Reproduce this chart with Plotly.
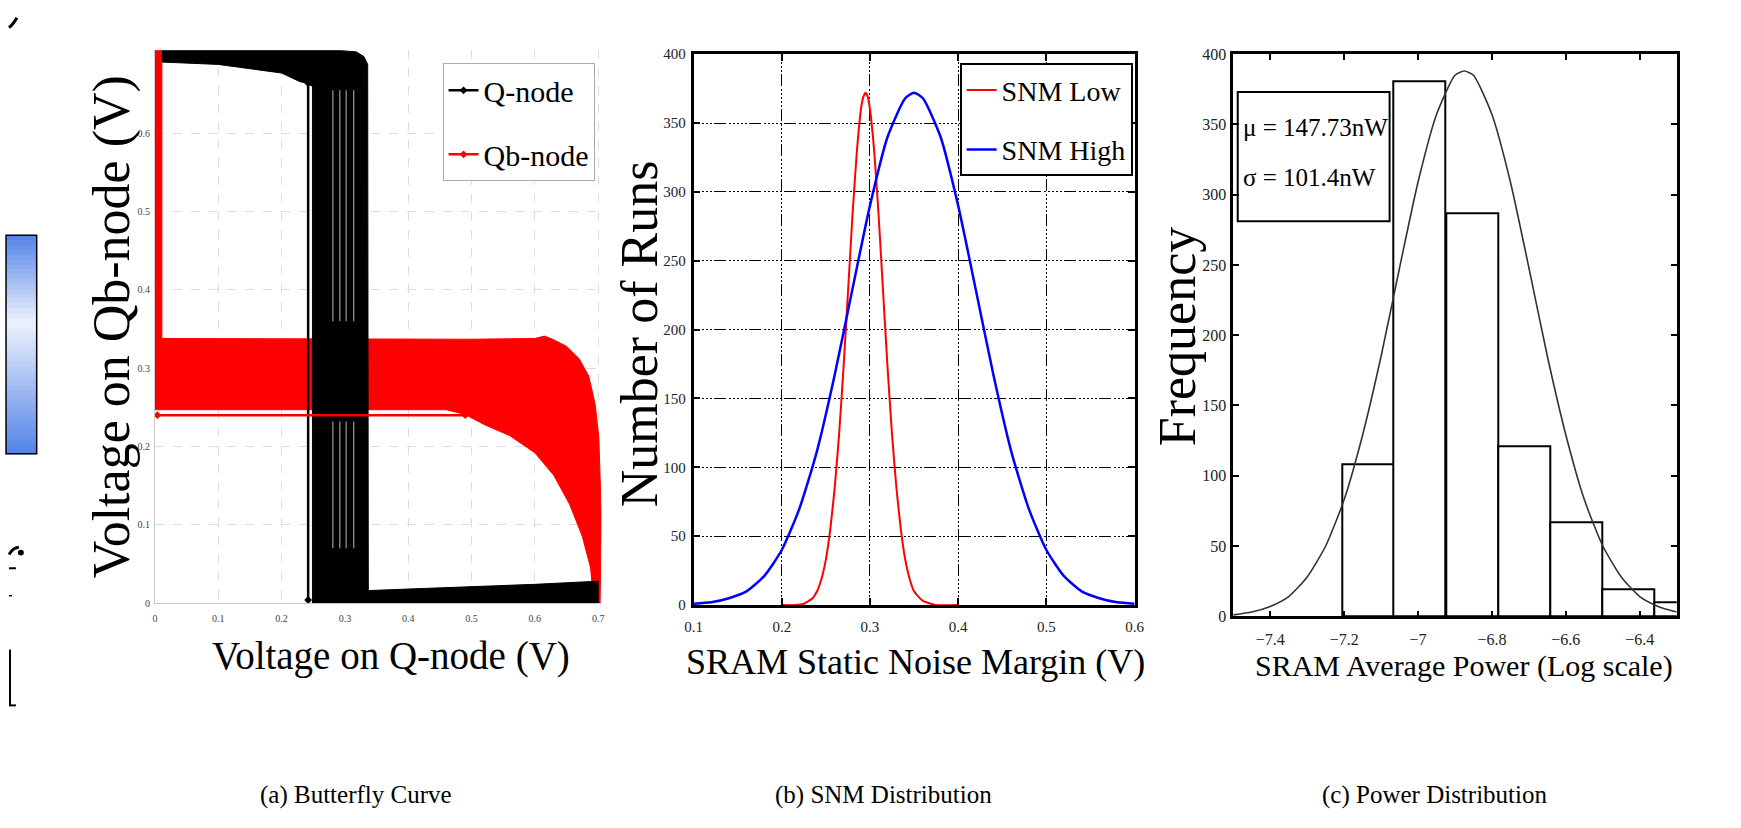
import plotly.graph_objects as go

W, H = 1741, 828
FONT = "Liberation Serif, Times New Roman, serif"

# ---------------- (a) Butterfly curve: Monte-Carlo envelopes
q_band_x = [0.011, 0.100, 0.200, 0.290, 0.318, 0.330, 0.336, 0.337, 0.400, 0.500, 0.600, 0.700,
            0.700, 0.2488, 0.2488, 0.240, 0.229, 0.200, 0.100, 0.011]
q_band_y = [0.706, 0.706, 0.706, 0.706, 0.704, 0.698, 0.688, 0.016, 0.018, 0.021, 0.024, 0.028,
            0.000, 0.000, 0.660, 0.664, 0.666, 0.677, 0.688, 0.691]
q_line_x = [0.242, 0.242]
q_line_y = [0.664, 0.004]
q_gap_x = [0.281, 0.292, 0.302, 0.314]
q_gap_upper = [0.655, 0.360]
q_gap_lower = [0.232, 0.070]

qb_band_x = [0.000, 0.011, 0.011, 0.300, 0.500, 0.600, 0.615, 0.628, 0.650, 0.670, 0.685, 0.695, 0.701,
             0.705, 0.703, 0.693, 0.688, 0.675, 0.655, 0.630, 0.600, 0.560, 0.520, 0.490, 0.460, 0.000]
qb_band_y = [0.706, 0.706, 0.338, 0.337, 0.337, 0.338, 0.341, 0.337, 0.328, 0.312, 0.290, 0.255, 0.212,
             0.110, 0.000, 0.000, 0.045, 0.085, 0.126, 0.163, 0.192, 0.214, 0.228, 0.241, 0.247, 0.247]
qb_line_x = [0.004, 0.490]
qb_line_y = [0.240, 0.240]

a_ticks = [0, 0.1, 0.2, 0.3, 0.4, 0.5, 0.6, 0.7]
a_ticktext = ["0", "0.1", "0.2", "0.3", "0.4", "0.5", "0.6", "0.7"]

# ---------------- (b) SNM distribution
snm_low_x = [0.200, 0.215, 0.225, 0.235, 0.240, 0.245, 0.250, 0.255, 0.260, 0.265, 0.270, 0.275, 0.280,
             0.285, 0.290, 0.2925, 0.295, 0.2975, 0.300, 0.305, 0.310, 0.315, 0.320, 0.325, 0.330,
             0.335, 0.340, 0.345, 0.350, 0.360, 0.375, 0.400]
snm_low_y = [0, 0, 1, 5, 10, 19, 33, 55, 85, 124, 172, 226, 281, 328, 361, 369, 372, 369, 360, 328,
             281, 226, 172, 124, 85, 55, 33, 19, 10, 3, 0, 0]
snm_high_x = [0.10, 0.12, 0.14, 0.16, 0.18, 0.20, 0.22, 0.24, 0.26, 0.28, 0.30, 0.32, 0.34, 0.35,
              0.36, 0.38, 0.40, 0.42, 0.44, 0.46, 0.48, 0.50, 0.52, 0.54, 0.56, 0.58, 0.60]
snm_high_y = [1, 2, 5, 10, 21, 40, 70, 112, 167, 229, 290, 340, 368, 372,
              368, 340, 290, 229, 167, 112, 70, 40, 21, 10, 5, 2, 1]
b_xticks = [0.1, 0.2, 0.3, 0.4, 0.5, 0.6]
b_yticks = [0, 50, 100, 150, 200, 250, 300, 350, 400]

# ---------------- (c) Power distribution
power_bin_left = [-7.205, -7.066, -6.924, -6.782, -6.642, -6.502, -6.361]
power_bin_width = 0.1406
power_counts = [108, 381, 287, 121, 67, 19, 10]
power_fit_x = [-7.50, -7.45, -7.40, -7.35, -7.30, -7.25, -7.20, -7.15, -7.10, -7.05, -7.00, -6.95, -6.90,
               -6.875, -6.85, -6.80, -6.75, -6.70, -6.65, -6.60, -6.55, -6.50, -6.45, -6.40, -6.35, -6.30]
power_fit_y = [1, 3, 7, 14, 28, 50, 83, 129, 185, 248, 309, 357, 385,
               388, 385, 357, 309, 248, 185, 129, 83, 50, 28, 14, 7, 3]
c_xticks = [-7.4, -7.2, -7.0, -6.8, -6.6, -6.4]
c_xticktext = ["\u22127.4", "\u22127.2", "\u22127", "\u22126.8", "\u22126.6", "\u22126.4"]
c_yticks = [0, 50, 100, 150, 200, 250, 300, 350, 400]
stats_lines = ["\u03bc = 147.73nW", "\u03c3 = 101.4nW"]


def px(x):
    return x / W


def py(y):
    return 1 - y / H


fig = go.Figure()

# (a) traces
fig.add_trace(go.Scatter(x=qb_band_x, y=qb_band_y, fill="toself", fillcolor="#ff0000", mode="lines",
                         line=dict(color="#ff0000", width=1), showlegend=False, hoverinfo="skip",
                         xaxis="x", yaxis="y"))
fig.add_trace(go.Scatter(x=q_band_x, y=q_band_y, fill="toself", fillcolor="#000000", mode="lines",
                         line=dict(color="#000000", width=1), showlegend=False, hoverinfo="skip",
                         xaxis="x", yaxis="y"))
gx, gy = [], []
for gxv in q_gap_x:
    for seg in (q_gap_upper, q_gap_lower):
        gx += [gxv, gxv, None]
        gy += [seg[0], seg[1], None]
fig.add_trace(go.Scatter(x=gx, y=gy, mode="lines", line=dict(color="rgba(255,255,255,0.6)", width=1.2),
                         showlegend=False, hoverinfo="skip", xaxis="x", yaxis="y"))
fig.add_trace(go.Scatter(x=q_line_x, y=q_line_y, mode="lines+markers", name="Q-node",
                         line=dict(color="black", width=2.5), marker=dict(symbol="diamond", size=6, color="black"),
                         legend="legend", legendgroup="q", xaxis="x", yaxis="y"))
fig.add_trace(go.Scatter(x=qb_line_x, y=qb_line_y, mode="lines+markers", name="Qb-node",
                         line=dict(color="#ff0000", width=2.5), marker=dict(symbol="diamond", size=6, color="#ff0000"),
                         legend="legend", legendgroup="qb", xaxis="x", yaxis="y"))

# (b) traces
fig.add_trace(go.Scatter(x=snm_low_x, y=snm_low_y, mode="lines", name="SNM Low",
                         line=dict(color="#ff0000", width=2, shape="spline", smoothing=0.5),
                         legend="legend2", legendgroup="low", xaxis="x2", yaxis="y2"))
fig.add_trace(go.Scatter(x=snm_high_x, y=snm_high_y, mode="lines", name="SNM High",
                         line=dict(color="#0000ff", width=2.5, shape="spline", smoothing=0.6),
                         legend="legend2", legendgroup="high", xaxis="x2", yaxis="y2"))

# (c) traces
fig.add_trace(go.Bar(x=power_bin_left, y=power_counts, width=power_bin_width, offset=0,
                     marker=dict(color="white", line=dict(color="black", width=2)),
                     showlegend=False, xaxis="x3", yaxis="y3"))
fig.add_trace(go.Scatter(x=power_fit_x, y=power_fit_y, mode="lines",
                         line=dict(color="#333333", width=1.6, shape="spline", smoothing=0.6),
                         showlegend=False, xaxis="x3", yaxis="y3"))

axis_font_small = dict(family=FONT, size=10, color="#444444")
tick_font = dict(family=FONT, size=15, color="#222222")
GRID_DASH = "2px,2px,2px,2px,2px,2px,2px,2px,2px,2px,12px,3px"

layout = dict(
    width=W, height=H, margin=dict(l=0, r=0, t=0, b=0),
    paper_bgcolor="white", plot_bgcolor="white", showlegend=True, bargap=0,
    xaxis=dict(domain=[px(147.5), px(598.9)], range=[0, 0.705], tickvals=a_ticks, ticktext=a_ticktext,
               showgrid=True, gridcolor="#dcdcdc", griddash="dash", gridwidth=1, zeroline=False,
               showline=True, linecolor="#c8c8c8", linewidth=1, ticks="", tickfont=axis_font_small,
               ticklabelstandoff=6, anchor="y"),
    yaxis=dict(domain=[py(607.6), py(43.2)], range=[0, 0.706], tickvals=a_ticks[:-1], ticktext=a_ticktext[:-1],
               showgrid=True, gridcolor="#dcdcdc", griddash="dash", gridwidth=1, zeroline=False,
               showline=True, linecolor="#c8c8c8", linewidth=1, ticks="", tickfont=axis_font_small,
               ticklabelstandoff=2, anchor="x"),
    xaxis2=dict(domain=[px(692.1), px(1138)], range=[0.1, 0.6], tickvals=b_xticks,
                showgrid=True, gridcolor="black", gridwidth=1.4, griddash=GRID_DASH,
                zeroline=False, showline=True, linecolor="black", linewidth=2.5, mirror="ticks",
                ticks="inside", ticklen=7, tickwidth=2, tickcolor="black", tickfont=tick_font,
                ticklabelstandoff=6, anchor="y2"),
    yaxis2=dict(domain=[py(609.6), py(47.1)], range=[0, 400], tickvals=b_yticks,
                showgrid=True, gridcolor="black", gridwidth=1.4, griddash=GRID_DASH,
                zeroline=False, showline=True, linecolor="black", linewidth=2.5, mirror="ticks",
                ticks="inside", ticklen=7, tickwidth=2, tickcolor="black", tickfont=tick_font,
                ticklabelstandoff=2, anchor="x2"),
    xaxis3=dict(domain=[px(1237.8), px(1686.1)], range=[-7.5, -6.3], tickvals=c_xticks, ticktext=c_xticktext,
                showgrid=False, zeroline=False, showline=True, linecolor="black", linewidth=2.5, mirror="ticks",
                ticks="inside", ticklen=6, tickwidth=2, tickcolor="black",
                tickfont=dict(family=FONT, size=16, color="#222222"), ticklabelstandoff=7, anchor="y3"),
    yaxis3=dict(domain=[py(621), py(47.1)], range=[0, 400], tickvals=c_yticks,
                showgrid=False, zeroline=False, showline=True, linecolor="black", linewidth=2.5, mirror="ticks",
                ticks="inside", ticklen=6, tickwidth=2, tickcolor="black",
                tickfont=dict(family=FONT, size=16, color="#222222"), ticklabelstandoff=1, anchor="x3"),
    legend=dict(x=px(592), y=py(56.5), xanchor="right", yanchor="top", bgcolor="white",
                bordercolor="#aaaaaa", borderwidth=1, font=dict(family=FONT, size=30, color="black"),
                traceorder="grouped", tracegroupgap=22, itemwidth=30),
    legend2=dict(x=px(1136), y=py(56.5), xanchor="right", yanchor="top", bgcolor="white",
                 bordercolor="black", borderwidth=2, font=dict(family=FONT, size=28, color="black"),
                 traceorder="grouped", tracegroupgap=20, itemwidth=30),
)
fig.update_layout(**layout)

ann = []


def title(text, x, y, size, angle=0):
    ann.append(dict(text=text, x=px(x), y=py(y), xref="paper", yref="paper", showarrow=False,
                    xanchor="center", yanchor="middle", textangle=angle,
                    font=dict(family=FONT, size=size, color="black")))


title("Voltage on Q-node (V)", 386, 662, 39)
title("Voltage on Qb-node (V)", 104, 325, 52, -90)
title("SRAM Static Noise Margin (V)", 917, 668, 36)
title("Number of Runs", 637, 333, 52, -90)
title("SRAM Average Power (Log scale)", 1471, 672, 30)
title("Frequency", 1181, 336, 52, -90)
title("(a) Butterfly Curve", 351, 803, 25)
title("(b) SNM Distribution", 884, 803, 25)
title("(c) Power Distribution", 1441, 803, 25)

# stats box text in panel (c)
ann.append(dict(text=stats_lines[0], x=-7.478, y=348, xref="x3", yref="y3", showarrow=False,
                xanchor="left", yanchor="middle", font=dict(family=FONT, size=25, color="black")))
ann.append(dict(text=stats_lines[1], x=-7.478, y=312, xref="x3", yref="y3", showarrow=False,
                xanchor="left", yanchor="middle", font=dict(family=FONT, size=25, color="black")))

shapes = [dict(type="rect", xref="x3", yref="y3", x0=-7.488, x1=-7.077, y0=281, y1=373,
               line=dict(color="black", width=2), fillcolor="rgba(0,0,0,0)", layer="above")]

# left-edge fragments of a neighbouring slide (decoration)
top, bot, n = 232.0, 455.0, 45
c_edge = (82, 132, 232)
c_mid = (238, 242, 253)
for i in range(n):
    t = (i + 0.5) / n
    f = t / 0.4 if t < 0.4 else (1 - t) / 0.6
    col = tuple(int(c_edge[k] + (c_mid[k] - c_edge[k]) * f) for k in range(3))
    y0 = top + (bot - top) * i / n
    y1 = top + (bot - top) * (i + 1) / n + 0.6
    shapes.append(dict(type="rect", xref="paper", yref="paper", x0=px(-3), x1=px(28), y0=py(y1), y1=py(y0),
                       line=dict(width=0), fillcolor="rgb(%d,%d,%d)" % col, layer="below"))
shapes.append(dict(type="rect", xref="paper", yref="paper", x0=px(-3), x1=px(28), y0=py(bot), y1=py(top),
                   line=dict(color="black", width=1.5), fillcolor="rgba(0,0,0,0)"))


def seg(d, w):
    shapes.append(dict(type="path", xref="paper", yref="paper", path=d,
                       line=dict(color="black", width=w), fillcolor="rgba(0,0,0,0)"))


seg("M %f,%f Q %f,%f %f,%f" % (px(0), py(20), px(4), py(17), px(8), py(10)), 3)
seg("M %f,%f Q %f,%f %f,%f" % (px(0), py(558), px(5), py(550), px(10), py(551)), 3)
shapes.append(dict(type="circle", xref="paper", yref="paper", x0=px(9), x1=px(15), y0=py(559), y1=py(553),
                   fillcolor="black", line=dict(width=0)))
seg("M %f,%f L %f,%f" % (px(0), py(572), px(7), py(572)), 2)
seg("M %f,%f L %f,%f" % (px(0), py(600), px(3), py(600)), 1.5)
seg("M %f,%f L %f,%f" % (px(1), py(655), px(1), py(712)), 2)
seg("M %f,%f L %f,%f" % (px(0), py(712), px(7), py(712)), 2)

fig.update_layout(annotations=ann, shapes=shapes)
fig.write_html("out.html", post_script="document.body.style.margin='0px';document.body.style.overflow='hidden';")
